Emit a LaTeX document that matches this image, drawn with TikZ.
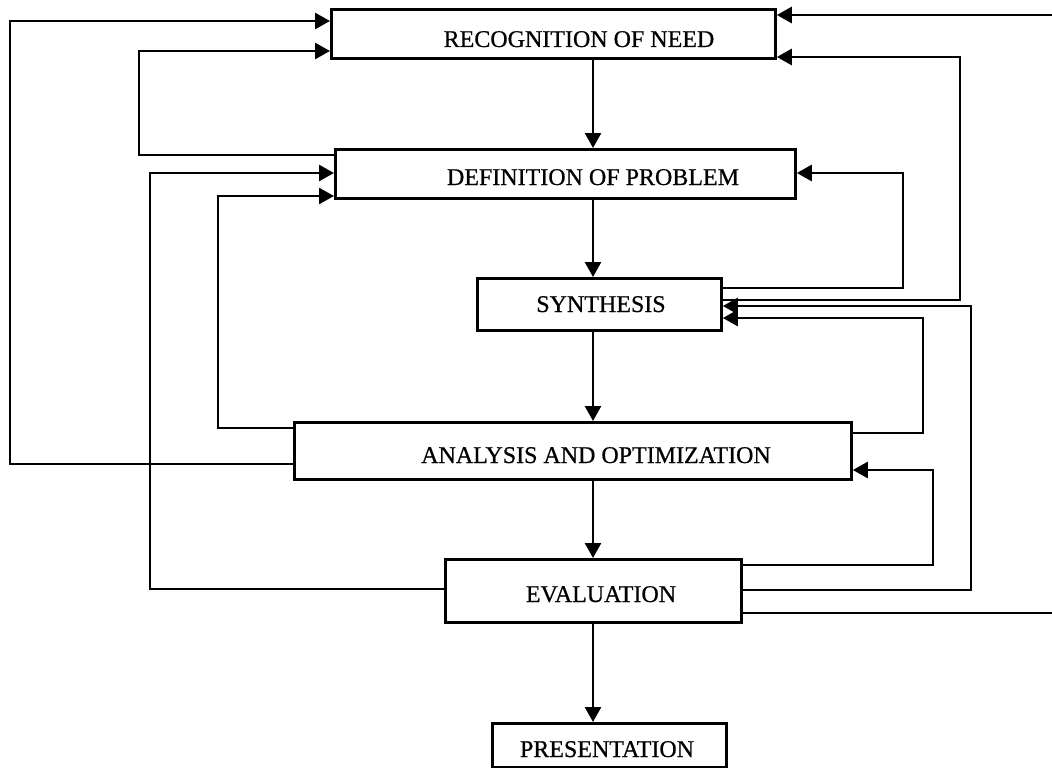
\documentclass[tikz,border=0pt]{standalone}
\usepackage{fontspec}
\setmainfont[FakeBold=0.6]{Liberation Serif}
\usetikzlibrary{arrows.meta}
\begin{document}
\begin{tikzpicture}[x=1pt,y=-1pt,
  box/.style={draw, line width=2.8pt, inner sep=0pt, anchor=north west},
  lbl/.style={font=\fontsize{24}{28}\selectfont, anchor=base, inner sep=0pt},
  flow/.style={line width=2.6pt, -{Triangle[length=15pt,width=16pt]}},
  link/.style={line width=2.6pt}]
% page frame
\fill[white] (0,0) rectangle (1052,768);
\useasboundingbox (0,0) rectangle (1052,768);
\clip (0,0) rectangle (1052,768);

% stages
\node[box, minimum width=444pt, minimum height=49pt] (rec) at (330,8) {};
\node[box, minimum width=460pt, minimum height=49pt] (def) at (334,148) {};
\node[box, minimum width=244pt, minimum height=52pt] (syn) at (476,277) {};
\node[box, minimum width=557pt, minimum height=57pt] (ana) at (293,421) {};
\node[box, minimum width=296pt, minimum height=63pt] (eva) at (444,558) {};
\node[box, minimum width=234pt, minimum height=44pt] (pre) at (491,722) {};

\node[lbl] (rec-t) at (579,47) {RECOGNITION OF NEED};
\node[lbl] (def-t) at (593,185) {DEFINITION OF PROBLEM};
\node[lbl] (syn-t) at (601,312) {SYNTHESIS};
\node[lbl] (ana-t) at (596,463) {ANALYSIS AND OPTIMIZATION};
\node[lbl] (eva-t) at (601,602) {EVALUATION};
\node[lbl] (pre-t) at (607,757) {PRESENTATION};

% main sequence
\draw[flow] (rec.south -| 593,0) -- (def.north -| 593,0);
\draw[flow] (def.south -| 593,0) -- (syn.north -| 593,0);
\draw[flow] (syn.south -| 593,0) -- (ana.north -| 593,0);
\draw[flow] (ana.south -| 593,0) -- (eva.north -| 593,0);
\draw[flow] (eva.south -| 593,0) -- (pre.north -| 593,0);

% feedback on the left
\draw[flow] (ana.west |- 0,464) -| (10,21) -- (rec.west |- 0,21);
\draw[flow] (def.west |- 0,155) -| (139,51) -- (rec.west |- 0,51);
\draw[flow] (eva.west |- 0,589) -| (150,173) -- (def.west |- 0,173);
\draw[flow] (ana.west |- 0,428) -| (218,196) -- (def.west |- 0,196);

% feedback on the right
\draw[flow] (eva.east |- 0,613) -- (1064,613) -- (1064,15) -- (rec.east |- 0,15);
\draw[flow] (syn.east |- 0,300) -| (960,57) -- (rec.east |- 0,57);
\draw[flow] (syn.east |- 0,288) -| (903,173) -- (def.east |- 0,173);
\draw[flow] (eva.east |- 0,590) -| (971,306) -- (syn.east |- 0,306);
\draw[flow] (ana.east |- 0,433) -| (923,318) -- (syn.east |- 0,318);
\draw[flow] (eva.east |- 0,565) -| (933,470) -- (ana.east |- 0,470);
\end{tikzpicture}
\end{document}
